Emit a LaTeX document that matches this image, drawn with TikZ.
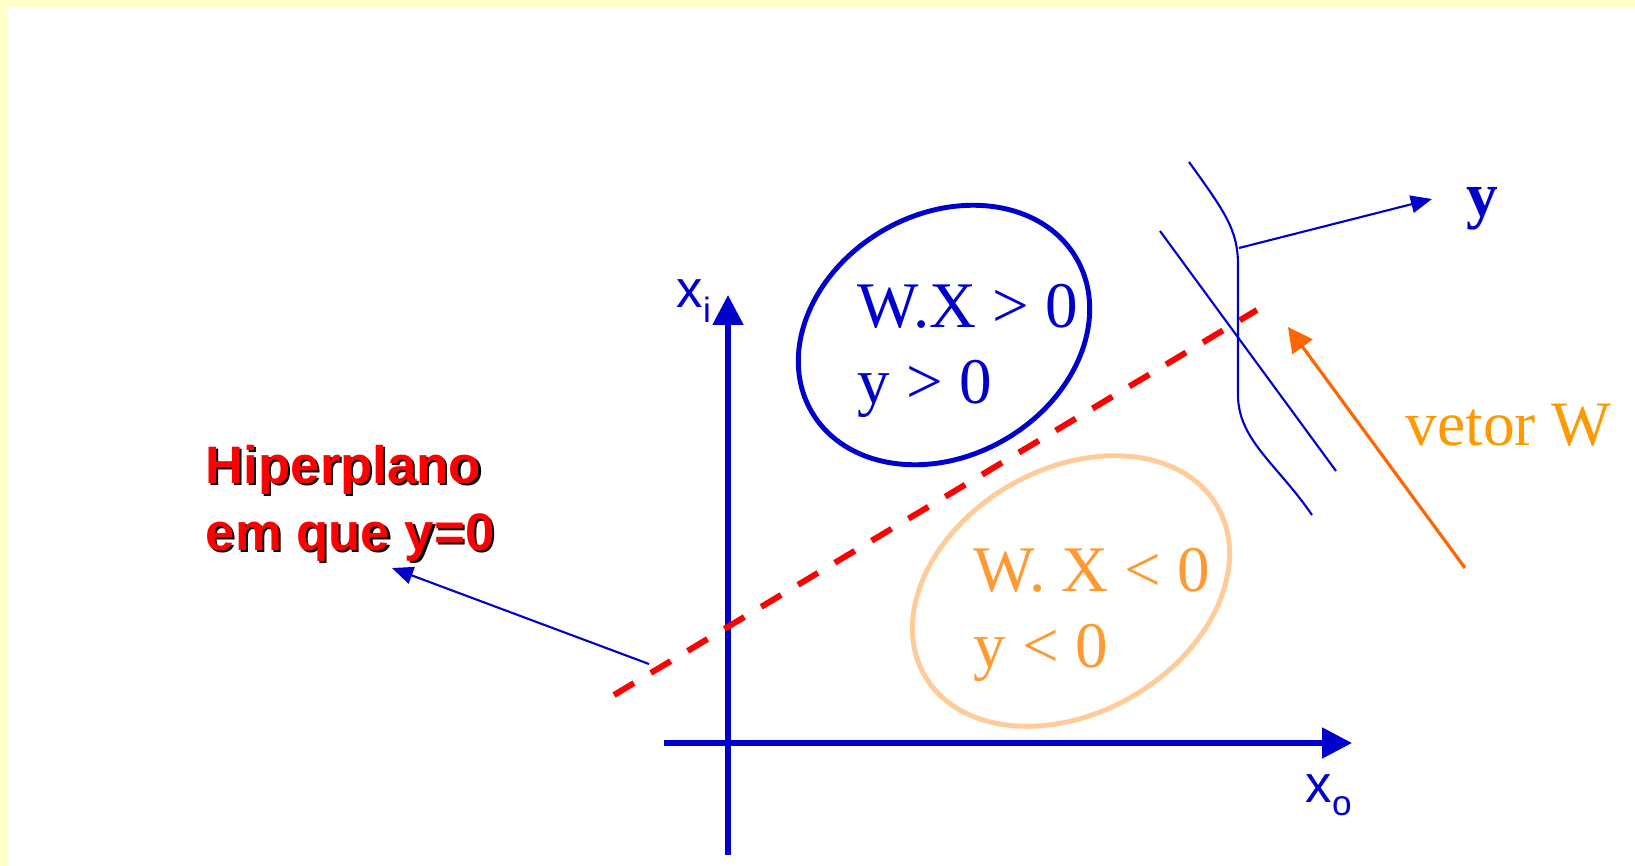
\documentclass[tikz,border=0pt]{standalone}
\usepackage{fontspec}
\setmainfont{Liberation Serif}
\setsansfont{Liberation Sans}
\usetikzlibrary{arrows.meta}
\definecolor{axisblue}{RGB}{0,0,204}
\definecolor{vecorange}{RGB}{255,102,0}
\definecolor{wtext}{RGB}{255,153,0}
\definecolor{negorange}{RGB}{255,153,51}
\definecolor{peach}{RGB}{255,204,153}
\definecolor{bgyellow}{RGB}{255,255,204}
\newcommand{\shadowtext}[1]{\makebox[0pt][l]{\hspace{0.6pt}\raisebox{-0.6pt}{\color{black}#1}}#1}
\begin{document}
\begin{tikzpicture}[x=0.01cm, y=-0.01cm,
    axis/.style={draw=axisblue, line width=1.5pt, -{Triangle[length=8.5pt, width=8.5pt]}},
    guide/.style={draw=axisblue, line width=0.6pt},
    guidearrow/.style={guide, -{Triangle[length=6pt, width=5pt]}},
    hyperplane/.style={draw=red, line width=1.7pt, dash pattern=on 6.6pt off 5.6pt},
    posregion/.style={draw=axisblue, line width=1.4pt},
    negregion/.style={draw=peach, line width=1.4pt},
    vecw/.style={draw=vecorange, line width=0.9pt, -{Triangle[length=7pt, width=7pt]}},
    regiontext/.style={inner sep=0pt, anchor=base west, font=\fontsize{18.5}{22}\selectfont},
    axislabel/.style={inner sep=0pt, anchor=base west, text=axisblue, font=\sffamily\fontsize{15}{18}\selectfont},
    hiper/.style={inner sep=0pt, anchor=base west, text=red, font=\sffamily\bfseries\fontsize{15}{18}\selectfont},
  ]
    \fill[white] (0,0) rectangle (1635,866);
    \fill[bgyellow] (0,0) rectangle (1635,7);
    \fill[bgyellow] (0,0) rectangle (8,866);
    \useasboundingbox (0,0) rectangle (1635,866);

    \coordinate (xstart) at (664,743);
    \coordinate (xend) at (1352,743);
    \coordinate (ystart) at (728,855);
    \coordinate (yend) at (728,295);
    \coordinate (h0) at (614,695);
    \coordinate (h1) at (1257,310);
    \coordinate (p0) at (649,664);
    \coordinate (p1) at (392,568);
    \coordinate (ya0) at (1239,248);
    \coordinate (ya1) at (1432,199);
    \coordinate (s0) at (1160,231);
    \coordinate (s1) at (1336,471);
    \coordinate (c0) at (1189,162);
    \coordinate (c1) at (1312,515);
    \coordinate (w0) at (1465,568);
    \coordinate (w1) at (1288,327);

    \draw[posregion, rotate around={30:(944,335)}] (944,335) ellipse [x radius=153, y radius=121];
    \draw[negregion, rotate around={30:(1071,591)}] (1071,591) ellipse [x radius=169, y radius=122];

    \node[regiontext, text=axisblue] (pos1) at (857,327) {W.X > 0};
    \node[regiontext, text=axisblue] (pos2) at (857,403) {y > 0};
    \node[regiontext, text=negorange] (neg1) at (973,591) {W. X < 0};
    \node[regiontext, text=negorange] (neg2) at (973,667) {y < 0};
    \node[regiontext, text=wtext, font=\fontsize{18}{22}\selectfont] (vetor) at (1405,445) {vetor W};
    \node[regiontext, text=axisblue, font=\bfseries\fontsize{18}{22}\selectfont] (yout) at (1466,216) {y};

    \node[axislabel] (xi) at (676,307) {x\raisebox{-4.3pt}{\fontsize{10}{12}\selectfont i}};
    \node[axislabel] (xo) at (1305,802) {x\raisebox{-3.7pt}{\fontsize{10}{12}\selectfont o}};

    \node[hiper] (hiper1) at (205,483) {\shadowtext{Hiperplano}};
    \node[hiper] (hiper2) at (205,550) {\shadowtext{em que y=0}};

    \draw[axis] (xstart) -- (xend);
    \draw[axis] (ystart) -- (yend);
    \draw[hyperplane] (h0) -- (h1);
    \draw[guidearrow] (p0) -- (p1);

    \draw[guide] (s0) -- (s1);
    \draw[guide] (c0) .. controls (1225,212) and (1238,230) .. (1238,265)
      -- (1238,395) .. controls (1238,440) and (1278,465) .. (c1);
    \draw[guidearrow] (ya0) -- (ya1);
    \draw[vecw] (w0) -- (w1);
\end{tikzpicture}
\end{document}
